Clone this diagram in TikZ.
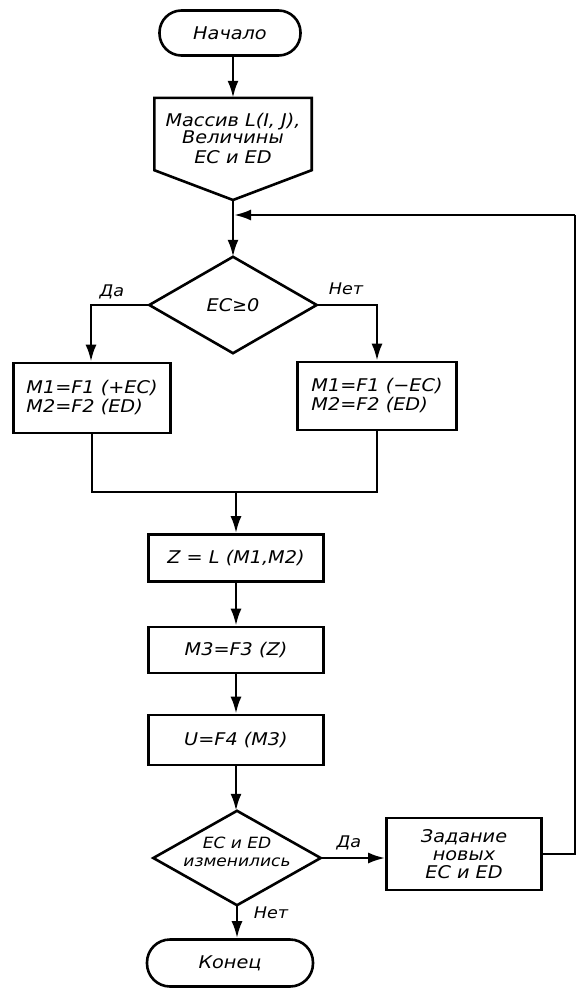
\documentclass[tikz,border=0pt]{standalone}
\usepackage{fontspec}
\setmainfont{DejaVu Sans}[FakeStretch=1.1]
\newfontfamily\symf{DejaVu Sans}
\usetikzlibrary{shapes.geometric,arrows.meta}
\begin{document}
\begin{tikzpicture}[x=1pt,y=-1pt,
  every node/.style={font=\itshape\fontsize{17.5}{19}\selectfont, align=center},
  ln/.style={line width=2.6pt, line join=miter},
  arr/.style={ln,-{Latex[length=17pt,width=11pt]}},
  box/.style={draw, ln, inner sep=2pt},
  term/.style={draw, ln, rounded corners=22pt, minimum height=45pt, inner sep=2pt},
  decarea/.style={inner sep=0pt},
  lab/.style={font=\itshape\fontsize{16}{17}\selectfont}]
\useasboundingbox (0,0) rectangle (576,990);

% nodes
\node[term, minimum width=141pt] (start) at (230,33) {Начало};
\node[minimum width=157pt, minimum height=72pt, inner sep=0pt] (inp) at (233,134) {};
\node[inner sep=0pt] (inptext) at (233,138) {Массив L(I, J),\\[-2pt] Величины\\[1pt] EC и ED};
\coordinate (tip) at (233,200);
\coordinate (j1) at (233,215);
\node[decarea, minimum width=167pt, minimum height=96pt] (d1) at (233,305) {EC{\symf\itshape ≥}0};
\coordinate (dl) at (91,305);
\coordinate (dr) at (377,305);
\node[box, minimum width=157pt, minimum height=70pt, align=left] (bl) at (92,398) {M1=F1 (+EC)\\M2=F2 (ED)};
\node[box, minimum width=159pt, minimum height=68pt, align=left] (br) at (377,396) {M1=F1 (−EC)\\M2=F2 (ED)};
\coordinate (ml) at (92,492);
\coordinate (mr) at (377,492);
\coordinate (mm) at (236,492);
\node[box, minimum width=175pt, minimum height=47pt] (z) at (236,558) {Z = L (M1,M2)};
\node[box, minimum width=175pt, minimum height=46pt] (m3) at (236,650) {M3=F3 (Z)};
\node[box, minimum width=175pt, minimum height=50pt] (u) at (236,740) {U=F4 (M3)};
\node[decarea, minimum width=167pt, minimum height=94pt] (d2) at (237,858) {};
\node[inner sep=0pt, font=\itshape\fontsize{15.5}{17.5}\selectfont] (d2text) at (237,852) {EC и ED\\ изменились};
\node[box, minimum width=155pt, minimum height=72pt] (new) at (464,854) {Задание\\[-1pt] новых\\[-1pt] EC и ED};
\coordinate (rt) at (575,854);
\coordinate (rb) at (575,215);
\node[term, minimum width=166pt, minimum height=47pt, rounded corners=23pt] (end) at (230,963) {Конец};

% shapes drawn through node anchors
\draw[ln] (inp.south west) -- (inp.north west) -- (inp.north east) -- (inp.south east) -- (tip) -- cycle;
\draw[ln] (d1.north) -- (d1.east) -- (d1.south) -- (d1.west) -- cycle;
\draw[ln] (d2.north) -- (d2.east) -- (d2.south) -- (d2.west) -- cycle;

% labels
\node[lab] (l1) at (112,292) {Да};
\node[lab] (l2) at (346,289) {Нет};
\node[lab] (l3) at (349,843) {Да};
\node[lab] (l4) at (271,913) {Нет};

% connectors
\draw[arr] (start.south -| tip) -- (inp.north -| tip);
\draw[arr] (tip) -- (d1.north);
\draw[arr] (d1.west) -- (dl) -- (dl |- bl.north);
\draw[arr] (d1.east) -- (dr) -- (br.north);
\draw[ln] (bl.south) -- (ml) -- (mr) -- (br.south);
\draw[arr] (mm) -- (z.north);
\draw[arr] (z.south) -- (m3.north);
\draw[arr] (m3.south) -- (u.north);
\draw[arr] (u.south) -- (u.south |- d2.north);
\draw[arr] (d2.east) -- (d2.east -| new.west);
\draw[arr] (d2.south) -- (d2.south |- end.north);
\draw[ln] (new.east) -- (rt) -- (rb);
\draw[arr] (rb) -- ([xshift=1pt]j1);
\end{tikzpicture}
\end{document}
